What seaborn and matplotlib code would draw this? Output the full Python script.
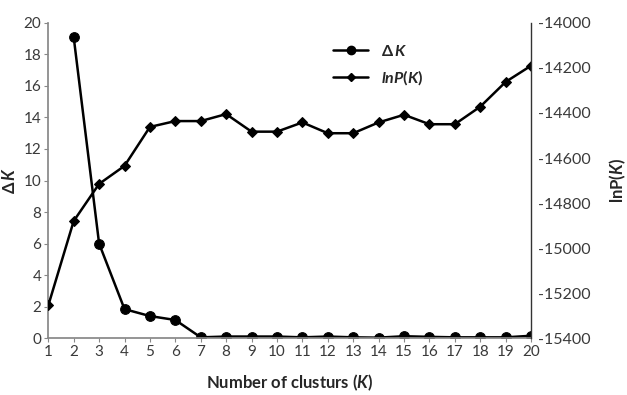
import matplotlib
matplotlib.use("Agg")
import matplotlib.pyplot as plt
import seaborn as sns
import pandas as pd
from matplotlib.lines import Line2D

K = list(range(1, 21))
delta_k = [None, 19.1, 6.0, 1.84, 1.4, 1.15, 0.05, 0.1, 0.1, 0.1, 0.05, 0.1, 0.05, 0.03, 0.12, 0.08, 0.05, 0.05, 0.05, 0.15]
lnp_k = [-15255, -14880, -14715, -14635, -14462, -14436, -14436, -14405, -14483, -14483,
         -14442, -14490, -14490, -14442, -14408, -14450, -14450, -14372, -14262, -14190]

sns.set_theme(style="white")
plt.rcParams['font.family'] = ['Lato', 'DejaVu Sans']
plt.rcParams['axes.unicode_minus'] = False
plt.rcParams['mathtext.fontset'] = 'custom'
plt.rcParams['mathtext.it'] = 'Lato:bold:italic'
plt.rcParams['mathtext.rm'] = 'Lato:bold'

df = pd.DataFrame({"K": K, "dK": delta_k, "lnP": lnp_k})
dfd = df.dropna(subset=["dK"])

fig = plt.figure(figsize=(6.27, 3.95), dpi=100)
ax = fig.add_axes([0.077, 0.144, 0.77, 0.798])
ax2 = ax.twinx()

sns.lineplot(data=dfd, x="K", y="dK", ax=ax, color="black", marker="o", markersize=7,
             linewidth=1.8, markeredgecolor="black")
sns.lineplot(data=df, x="K", y="lnP", ax=ax2, color="black", marker="D", markersize=5,
             linewidth=1.8, markeredgecolor="black")

ax.set_xlim(1, 20)
ax.set_ylim(0, 20)
ax2.set_ylim(-15400, -14000)
ax.set_xticks(K)
ax.set_yticks(range(0, 21, 2))
ax2.set_yticks(range(-15400, -13999, 200))

tc = "#3a3a3a"
ax.tick_params(axis='both', labelsize=11, colors="#888888", labelcolor=tc, length=3, width=0.8, direction='out', bottom=True, left=True, pad=2)
ax2.tick_params(axis='y', labelsize=11.5, colors="#444444", labelcolor=tc, length=0, pad=5)

for s in ["top"]:
    ax.spines[s].set_visible(False)
    ax2.spines[s].set_visible(False)
ax.spines["left"].set_color("#888888")
ax.spines["bottom"].set_color("#888888")
ax2.spines["left"].set_visible(False)
ax2.spines["bottom"].set_visible(False)
ax2.spines["right"].set_color("#333333")
ax2.spines["right"].set_linewidth(1.0)
ax.spines["right"].set_visible(False)

ax.set_xlabel("Number of clusturs ($K$)", fontsize=12, fontweight="bold", labelpad=10)
ax.set_ylabel("$\u0394\\,K$", fontsize=12, labelpad=4)
ax2.set_ylabel("lnP($K$)", fontsize=12, fontweight="bold", labelpad=12)

handles = [Line2D([], [], color="black", marker="o", markersize=6, linewidth=1.8),
           Line2D([], [], color="black", marker="D", markersize=4.5, linewidth=1.8)]
ax.legend(handles, ["$\u0394\\,K$", "$lnP(K)$"], loc="upper left", bbox_to_anchor=(0.56, 0.98),
          frameon=False, fontsize=11.5, handlelength=2.2, labelspacing=0.6)

fig.savefig("out.png", dpi=100)
